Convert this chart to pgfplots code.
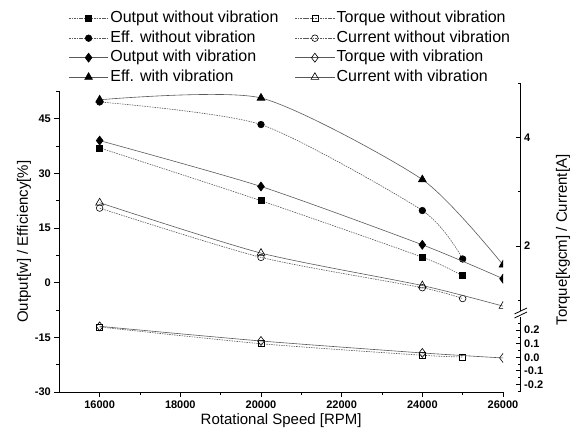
\documentclass[border=0pt]{standalone}
\usepackage{fontspec}
\setmainfont{Liberation Sans}
\usepackage{pgfplots}
\pgfplotsset{compat=1.18}

% 1pt here = 1px of the 580x441 reference
\pgfplotsset{
  base/.style={
    scale only axis, width=443.7pt, anchor=south west,
    xmin=15000, xmax=26000, scaled x ticks=false, scaled y ticks=false,
    clip marker paths=true,
    /pgf/number format/assume math mode=true,
    /pgf/number format/1000 sep={},
    tick label style={font=\fontsize{11}{13}\selectfont\bfseries},
    axis line style={-, line width=0.8pt},
    tick style={black, line width=0.8pt},
    major tick length=5pt, minor tick length=3pt,
  },
  rightseg/.style={base, axis x line=none, axis y line*=right,
    axis y line shift=17.7pt, ytick align=inside},
  wo/.style={black!65, line width=0.6pt, dash pattern=on 1.5pt off 1pt,
    smooth, tension=0.4, mark options={solid, black}},
  wi/.style={black!65, line width=0.6pt, smooth, tension=0.4,
    mark options={solid, black}},
}

\begin{document}
\begin{tikzpicture}
\useasboundingbox (0,0) rectangle (580pt,441pt);

% left axis: output and efficiency
\begin{axis}[base, at={(59.3pt,49pt)}, height=300.6pt,
  ymin=-30, ymax=52.5,
  axis x line*=bottom, axis y line*=left,
  xtick={16000,18000,...,26000}, minor xtick={17000,19000,...,25000},
  ytick={-30,-15,...,45}, minor ytick={-22.5,-7.5,...,52.5},
  xtick align=outside, ytick align=outside,
  xlabel={Rotational Speed [RPM]}, ylabel={Output[w] / Efficiency[\%]},
  label style={font=\fontsize{15}{18}\selectfont},
  xlabel style={at={(axis description cs:0.5,0)}, anchor=base, yshift=-32pt, inner sep=0pt},
  ylabel style={at={(axis description cs:-0.0797,0.5)}, anchor=center, inner sep=0pt},
  legend columns=2, legend cell align=left,
  legend style={at={(0.0214,1.2668)}, anchor=north west, draw=none, fill=none,
    inner sep=0pt, outer sep=0pt, font=\fontsize{16}{19}\selectfont,
    nodes={inner sep=0pt, text height=11.5pt, text depth=3.5pt},
    row sep=4.5pt,
    /tikz/every odd column/.append style={column sep=2pt},
    /tikz/every even column/.append style={column sep=16.6pt}},
  legend image code/.code={\draw[mark repeat=2,mark phase=2,#1]
    plot coordinates {(0pt,0pt) (19.5pt,0pt) (39pt,0pt)};},
]
\addlegendimage{wo, mark=square*, mark size=3pt}
\addlegendentry{Output without vibration}
\addlegendimage{wo, mark=square, mark size=3pt}
\addlegendentry{Torque without vibration}
\addlegendimage{wo, mark=*, mark size=3.3pt}
\addlegendentry{Eff. without vibration}
\addlegendimage{wo, mark=o, mark size=3.3pt}
\addlegendentry{Current without vibration}
\addlegendimage{wi, mark=diamond*, mark size=4.5pt}
\addlegendentry{Output with vibration}
\addlegendimage{wi, mark=diamond, mark size=4.5pt}
\addlegendentry{Torque with vibration}
\addlegendimage{wi, mark=triangle*, mark size=4.5pt}
\addlegendentry{Eff. with vibration}
\addlegendimage{wi, mark=triangle, mark size=4.5pt}
\addlegendentry{Current with vibration}

\addplot[wo, mark=square*, mark size=3pt, forget plot] coordinates {
  (16000,37.0) (20000,22.5) (24000,7.0) (25000,1.9)};
\addplot[wo, mark=*, mark size=3.3pt, forget plot] coordinates {
  (16000,49.6) (20000,43.4) (24000,19.8) (25000,6.5)};
\addplot[wi, mark=diamond*, mark size=4.5pt, forget plot] coordinates {
  (16000,39.0) (20000,26.4) (24000,10.4) (26000,1.1)};
\addplot[wi, mark=triangle*, mark size=4.5pt, forget plot] coordinates {
  (16000,50.2) (20000,50.7) (24000,28.3) (26000,4.9)};
\end{axis}

% right axis, upper part: current
\begin{axis}[rightseg, at={(59.3pt,130pt)}, height=227.4pt,
  ymin=0.8, ymax=5, ytick={2,4}, minor ytick={1,3,5},
  ylabel={Torque[kgcm] / Current[A]},
  ylabel style={font=\fontsize{15}{18}\selectfont,
    at={(axis description cs:1.1352,0.312)}, anchor=center, inner sep=0pt},
]
\addplot[wo, mark=o, mark size=3.3pt] coordinates {
  (16000,2.70) (20000,1.79) (24000,1.23) (25000,1.03)};
\addplot[wi, mark=triangle, mark size=4.5pt] coordinates {
  (16000,2.80) (20000,1.87) (24000,1.27) (26000,0.89)};
\end{axis}

% right axis, lower part: torque
\begin{axis}[rightseg, at={(59.3pt,49.75pt)}, height=74.7pt,
  ymin=-0.25, ymax=0.3,
  ytick={-0.2,-0.1,...,0.2}, minor ytick={-0.25,-0.15,...,0.3},
  yticklabel style={/pgf/number format/.cd, fixed, fixed zerofill, precision=1},
]
\addplot[wo, mark=square, mark size=3pt] coordinates {
  (16000,0.223) (20000,0.10) (24000,0.015) (25000,0.002)};
\addplot[wi, mark=diamond, mark size=4.5pt] coordinates {
  (16000,0.228) (20000,0.12) (24000,0.032) (26000,-0.005)};
\end{axis}

% axis break marks
\draw[line width=0.8pt] (514.5pt,123pt) -- (527pt,129pt);
\draw[line width=0.8pt] (514.5pt,127pt) -- (527pt,133pt);
\end{tikzpicture}
\end{document}
